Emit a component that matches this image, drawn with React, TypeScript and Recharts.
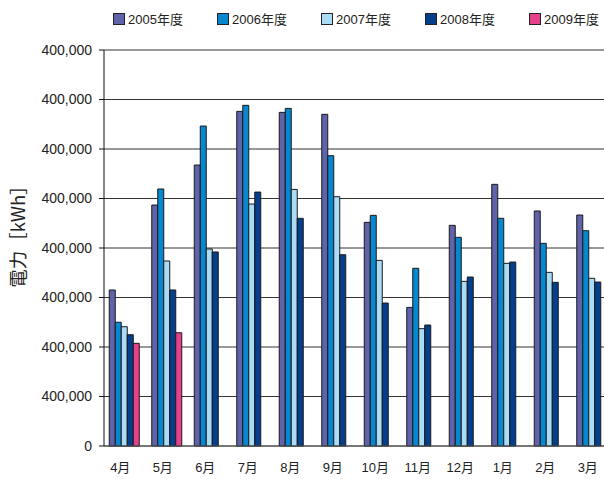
import { BarChart, Bar, XAxis, YAxis, CartesianGrid } from "recharts";

const months = ["4月", "5月", "6月", "7月", "8月", "9月", "10月", "11月", "12月", "1月", "2月", "3月"];

const fy2005 = [157600, 243400, 283800, 338000, 337000, 335000, 225900, 140000, 222900, 264300, 237400, 233300];
const fy2006 = [125000, 259600, 323200, 344100, 341000, 293200, 233000, 179500, 210800, 230000, 204700, 217500];
const fy2007 = [120500, 186900, 199000, 244400, 259200, 251800, 187500, 118500, 166300, 184500, 175400, 169400];
const fy2008 = [112400, 157600, 196000, 256500, 230000, 193200, 144400, 122200, 170700, 185800, 165300, 165600];
const fy2009 = [103700, 114400, null, null, null, null, null, null, null, null, null, null];

const yTicks = [0, 50000, 100000, 150000, 200000, 250000, 300000, 350000, 400000];
const yTickLabels = ["0", "400,000", "400,000", "400,000", "400,000", "400,000", "400,000", "400,000", "400,000"];

const series = [
  { key: "fy2005", name: "2005年度", color: "#6063aa" },
  { key: "fy2006", name: "2006年度", color: "#0787cf" },
  { key: "fy2007", name: "2007年度", color: "#aadcf6" },
  { key: "fy2008", name: "2008年度", color: "#053f8c" },
  { key: "fy2009", name: "2009年度", color: "#e6428b" },
];

const data = months.map((m, i) => ({
  month: m,
  fy2005: fy2005[i],
  fy2006: fy2006[i],
  fy2007: fy2007[i],
  fy2008: fy2008[i],
  fy2009: fy2009[i],
}));

const font = "'Liberation Sans', 'Noto Sans CJK JP', sans-serif";

export default function App() {
  return (
    <div
      style={{
        position: "absolute",
        left: 0,
        top: 0,
        width: 604,
        height: 479,
        overflow: "hidden",
        background: "#fff",
        fontFamily: font,
      }}
    >
      {series.map((s, i) => (
        <div
          key={s.key}
          style={{
            position: "absolute",
            left: 113 + i * 104,
            top: 9,
            display: "flex",
            alignItems: "center",
            fontSize: 13,
            color: "#222",
          }}
        >
          <span
            style={{
              width: 10,
              height: 10,
              background: s.color,
              border: "1px solid #222",
              marginRight: 3,
            }}
          />
          {s.name}
        </div>
      ))}
      <div
        style={{
          position: "absolute",
          left: 17,
          top: 232,
          transform: "translate(-50%, -50%) rotate(-90deg)",
          fontSize: 18.5,
          whiteSpace: "nowrap",
          color: "#222",
          fontFamily: "'Noto Sans CJK JP', sans-serif",
        }}
      >
        電力［kWh］
      </div>
      <div style={{ position: "absolute", left: 0, top: 0 }}>
        <BarChart
          width={614}
          height={479}
          data={data}
          margin={{ top: 50, right: 0, bottom: 0, left: 0 }}
          barCategoryGap={5.25}
          barGap={0}
        >
          <CartesianGrid vertical={false} stroke="#333" strokeWidth={1} />
          <XAxis
            dataKey="month"
            height={33}
            tickLine={false}
            axisLine={{ stroke: "#555" }}
            tick={{ fontSize: 13, fill: "#222", fontFamily: font, dx: -5, dy: 9 }}
            interval={0}
          />
          <YAxis
            width={104}
            domain={[0, 400000]}
            ticks={yTicks}
            tickFormatter={(_v: number, i: number) => yTickLabels[i]}
            tickSize={5}
            tickMargin={7}
            axisLine={{ stroke: "#111" }}
            tickLine={{ stroke: "#111" }}
            tick={{ fontSize: 14, fill: "#222", fontFamily: font }}
          />
          {series.map((s) => (
            <Bar
              key={s.key}
              dataKey={s.key}
              name={s.name}
              fill={s.color}
              stroke="#1a1a1a"
              strokeWidth={1}
              isAnimationActive={false}
            />
          ))}
        </BarChart>
      </div>
    </div>
  );
}
